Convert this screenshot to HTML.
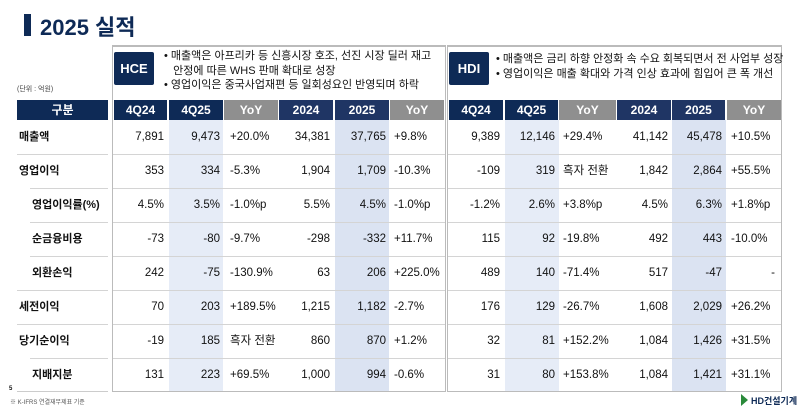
<!DOCTYPE html>
<html><head><meta charset="utf-8"><style>
*{margin:0;padding:0;box-sizing:border-box}
body{width:800px;height:410px;background:#fff;font-family:"Liberation Sans","Noto Sans CJK KR",sans-serif;position:relative;overflow:hidden;color:#111}
.a{position:absolute}
.hd{position:absolute;top:100px;height:20px;color:#fff;font-weight:bold;font-size:12px;text-align:center;line-height:20px}
.n{background:#0e2a56}.g{background:#8f8f8f}
.cell{position:absolute;font-size:11.5px;height:34px;line-height:34px;text-align:right}
.lbl{position:absolute;font-size:11px;font-weight:bold;height:34px;line-height:34px}
.sep{position:absolute;height:1px;background:#d4d4d4}
.bul{position:absolute;font-size:11px;line-height:14.5px;color:#111}
</style></head><body>
<div class="a" style="left:24px;top:14px;width:7px;height:22px;background:#0e2a56"></div>
<div class="a" style="left:40px;top:10px;font-size:22px;font-weight:bold;color:#0e2a56">2025 실적</div>
<div class="a" style="left:17px;top:84px;font-size:7px;color:#444">(단위 : 억원)</div>
<div class="hd n" style="left:17px;width:91px">구분</div>

<!-- panels -->
<div class="a" style="left:112px;top:45px;width:334px;height:347px;border:1px solid #bbb;border-top:2px solid #bbb"></div>
<div class="a" style="left:447px;top:45px;width:335px;height:347px;border:1px solid #bbb;border-top:2px solid #bbb"></div>

<div class="a n" style="left:114px;top:52px;width:40px;height:33px;color:#fff;font-weight:bold;font-size:13px;text-align:center;line-height:33px;border-radius:2px">HCE</div>
<div class="a n" style="left:449px;top:52px;width:40px;height:33px;color:#fff;font-weight:bold;font-size:13px;text-align:center;line-height:33px;border-radius:2px">HDI</div>
<div class="bul" style="left:164px;top:49px">• 매출액은 아프리카 등 신흥시장 호조, 선진 시장 딜러 재고<br>&nbsp;&nbsp;&nbsp;안정에 따른 WHS 판매 확대로 성장<br>• 영업이익은 중국사업재편 등 일회성요인 반영되며 하락</div>
<div class="bul" style="left:496px;top:52px">• 매출액은 금리 하향 안정화 속 수요 회복되면서 전 사업부 성장<br>• 영업이익은 매출 확대와 가격 인상 효과에 힘입어 큰 폭 개선</div>

<!-- shading -->
<div class="a" style="left:169px;top:120px;width:54px;height:271px;background:#e6ecf7"></div>
<div class="a" style="left:335px;top:120px;width:54px;height:271px;background:#dbe3f2"></div>
<div class="a" style="left:505px;top:120px;width:54px;height:271px;background:#e6ecf7"></div>
<div class="a" style="left:672px;top:120px;width:54px;height:271px;background:#dbe3f2"></div>

<div class="hd n" style="left:114px;width:53px">4Q24</div>
<div class="hd n" style="left:169px;width:54px">4Q25</div>
<div class="hd g" style="left:224px;width:54px">YoY</div>
<div class="hd n" style="left:279px;width:54px;background:#1f3564">2024</div>
<div class="hd n" style="left:335px;width:54px;background:#1f3564">2025</div>
<div class="hd g" style="left:390px;width:54px">YoY</div>
<div class="hd n" style="left:449px;width:54px">4Q24</div>
<div class="hd n" style="left:505px;width:53px">4Q25</div>
<div class="hd g" style="left:559px;width:57px">YoY</div>
<div class="hd n" style="left:617px;width:54px;background:#1f3564">2024</div>
<div class="hd n" style="left:672px;width:53px;background:#1f3564">2025</div>
<div class="hd g" style="left:727px;width:54px">YoY</div>

<div id="rows"></div>
<script>
var rows=[
["매출액",0,"7,891","9,473","+20.0%","34,381","37,765","+9.8%","9,389","12,146","+29.4%","41,142","45,478","+10.5%"],
["영업이익",0,"353","334","-5.3%","1,904","1,709","-10.3%","-109","319","흑자 전환","1,842","2,864","+55.5%"],
["영업이익률(%)",1,"4.5%","3.5%","-1.0%p","5.5%","4.5%","-1.0%p","-1.2%","2.6%","+3.8%p","4.5%","6.3%","+1.8%p"],
["순금융비용",1,"-73","-80","-9.7%","-298","-332","+11.7%","115","92","-19.8%","492","443","-10.0%"],
["외환손익",1,"242","-75","-130.9%","63","206","+225.0%","489","140","-71.4%","517","-47","-"],
["세전이익",0,"70","203","+189.5%","1,215","1,182","-2.7%","176","129","-26.7%","1,608","2,029","+26.2%"],
["당기순이익",0,"-19","185","흑자 전환","860","870","+1.2%","32","81","+152.2%","1,084","1,426","+31.5%"],
["지배지분",1,"131","223","+69.5%","1,000","994","-0.6%","31","80","+153.8%","1,084","1,421","+31.1%"]];
var colsR=[167,223,0,333,389,0,503,558,0,671,725,0];
var yoyL=[0,0,230,0,0,394,0,0,563,0,0,731];
var h="";
rows.forEach(function(r,i){
 var y=120+i*34;
 h+='<div class="lbl" style="top:'+y+'px;left:'+(r[1]?32:19)+'px">'+r[0]+'</div>';
 for(var c=0;c<12;c++){
  var v=r[c+2];
  if(colsR[c]) h+='<div class="cell" style="top:'+y+'px;left:'+(colsR[c]-60)+'px;width:57px">'+v+'</div>';
  else if(v=="-") h+='<div class="cell" style="top:'+y+'px;left:'+(yoyL[c])+'px;width:44px">'+v+'</div>';
  else h+='<div class="cell" style="top:'+y+'px;left:'+yoyL[c]+'px;text-align:left">'+v+'</div>';
 }
 if(i<7){var nx=rows[i+1][1]?30:17;
  h+='<div class="sep" style="top:'+(y+34)+'px;left:'+nx+'px;width:'+(108-nx)+'px"></div>';
  h+='<div class="sep" style="top:'+(y+34)+'px;left:113px;width:332px"></div>';
  h+='<div class="sep" style="top:'+(y+34)+'px;left:448px;width:333px"></div>';}
});
document.getElementById("rows").innerHTML=h;
</script>
<div class="sep" style="top:391px;left:17px;width:91px;background:#ccc"></div>
<div class="a" style="left:9px;top:386px;font-size:6px;font-weight:bold">5</div>
<div class="a" style="left:10px;top:397px;font-size:6px;color:#555">※ K-IFRS 연결재무제표 기준</div>
<div class="a" style="left:741px;top:394px;width:0;height:0;border-left:7px solid #2a8a3a;border-top:6px solid transparent;border-bottom:6px solid transparent"></div>
<div class="a" style="left:751px;top:394px;font-size:9px;font-weight:bold;color:#0e2a56">HD건설기계</div>
</body></html>
